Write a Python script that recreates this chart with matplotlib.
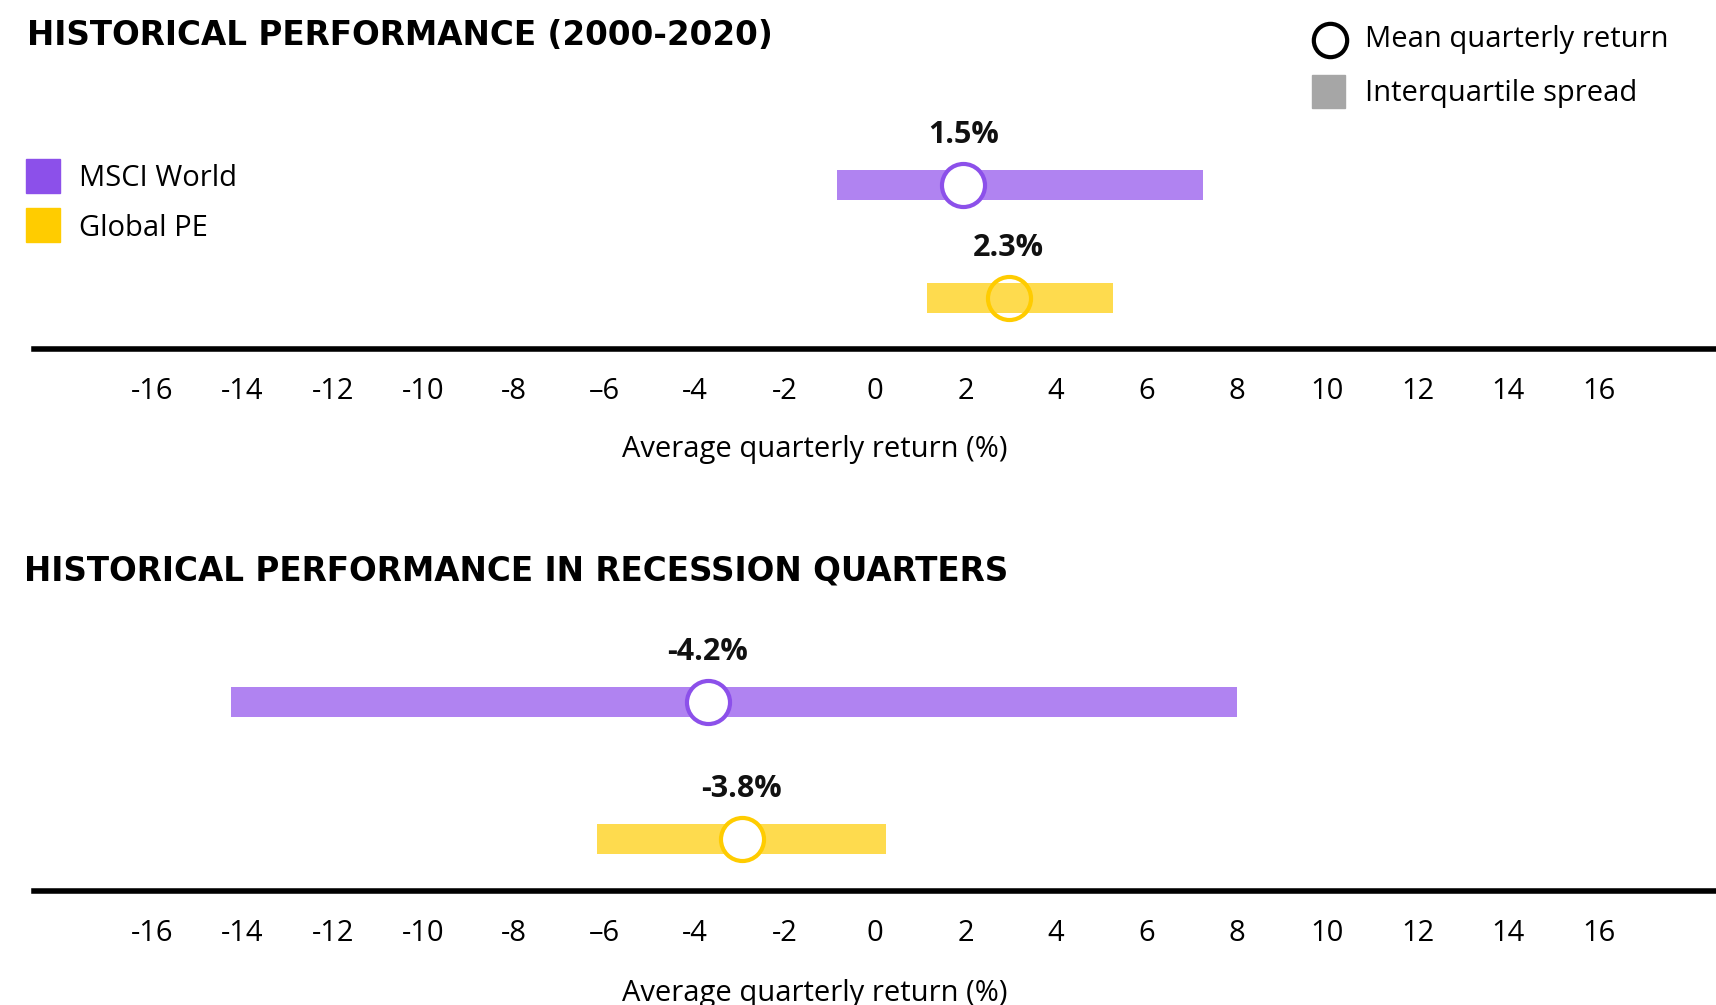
"""
Dumbbell-style range chart: interquartile spread + mean quarterly return,
MSCI World vs Global PE, full period and recession quarters.
"""

import matplotlib.pyplot as plt
from matplotlib.patches import Rectangle
from matplotlib.lines import Line2D

W, H = 1716, 1005
plt.rcParams["font.family"] = ["Open Sans", "DejaVu Sans"]

# ---------------------------------------------------------------------------
# Data
# ---------------------------------------------------------------------------

series = ["MSCI World", "Global PE"]

# 2000-2020
full_q1 = [-0.85, 1.15]
full_q3 = [7.25, 5.25]
full_mean_mark = [1.95, 2.95]
full_mean_label = ["1.5%", "2.3%"]

# recession quarters
rec_q1 = [-14.25, -6.15]
rec_q3 = [8.0, 0.25]
rec_mean_mark = [-3.7, -2.95]
rec_mean_label = ["-4.2%", "-3.8%"]

ticks = list(range(-16, 17, 2))
tick_labels = ["-16", "-14", "-12", "-10", "-8", "\u20136", "-4", "-2", "0",
               "2", "4", "6", "8", "10", "12", "14", "16"]

# ---------------------------------------------------------------------------
# Styling
# ---------------------------------------------------------------------------

DARK = ["#8C50EA", "#FFCC00"]
BAR = ["#B083F1", "#FEDB4E"]
XLIM = (-19.36, 18.6)


def fx(px):
    return px / W


def fy(py):
    return 1 - py / H


fig = plt.figure(figsize=(W / 100, H / 100), dpi=100)


def panel(bottom_px, height_px, ylim, q1, q3, mark, labels, bar_h, faces):
    ax = fig.add_axes([0, fy(bottom_px), 1, height_px / H])
    ax.set_xlim(*XLIM)
    ax.set_ylim(*ylim)
    rows = [1, 0]
    for i in range(len(series)):
        ax.barh(rows[i], q3[i] - q1[i], left=q1[i], height=bar_h,
                color=BAR[i], zorder=2)
        ax.plot(mark[i], rows[i], "o", ms=31, mfc=faces[i], mec=DARK[i],
                mew=3, zorder=3, clip_on=False)
        ax.annotate(labels[i], (mark[i], rows[i]), xytext=(0, 30),
                    textcoords="offset points", ha="center", va="baseline",
                    fontsize=22, fontweight="bold", color="#111111")
    for s in ["top", "right", "left"]:
        ax.spines[s].set_visible(False)
    ax.spines["bottom"].set_linewidth(4)
    ax.spines["bottom"].set_bounds(-18.6, XLIM[1])
    ax.set_yticks([])
    ax.set_xticks(ticks, tick_labels)
    ax.tick_params(axis="x", length=0, pad=20, labelsize=21)
    ax.set_xlabel("Average quarterly return (%)", fontsize=21)
    return ax


ax1 = panel(349, 232, (-0.45, 1.6), full_q1, full_q3, full_mean_mark,
            full_mean_label, 0.27, ["white", "none"])
ax1.xaxis.set_label_coords(815 / W, -(450 - 349) / 232)
ax1.xaxis.label.set_va("center")

ax2 = panel(891, 271, (-0.38, 1.6), rec_q1, rec_q3, rec_mean_mark,
            rec_mean_label, 0.22, ["white", "white"])
ax2.xaxis.set_label_coords(815 / W, -(993 - 891) / 271)
ax2.xaxis.label.set_va("center")

# ---------------------------------------------------------------------------
# Titles
# ---------------------------------------------------------------------------

fig.text(fx(27), fy(45), "HISTORICAL PERFORMANCE (2000-2020)", fontsize=23.5,
         fontweight="bold", va="baseline", ha="left", family="DejaVu Sans")
fig.text(fx(24), fy(580), "HISTORICAL PERFORMANCE IN RECESSION QUARTERS",
         fontsize=23.5, fontweight="bold", va="baseline", ha="left",
         family="DejaVu Sans")

# ---------------------------------------------------------------------------
# Legends
# ---------------------------------------------------------------------------

for i, (name, yc) in enumerate(zip(series, [176, 225])):
    fig.add_artist(Rectangle((fx(26), fy(yc + 17)), 34 / W, 34 / H,
                             color=DARK[i], transform=fig.transFigure))
    fig.text(fx(79), fy(yc + 3), name, fontsize=21, va="center", ha="left")

fig.add_artist(Line2D([fx(1330)], [fy(40)], marker="o", ms=24, mfc="white",
                      mec="black", mew=3, transform=fig.transFigure))
fig.text(fx(1365), fy(40), "Mean quarterly return", fontsize=21,
         va="center", ha="left")
fig.add_artist(Rectangle((fx(1312), fy(108)), 33 / W, 33 / H,
                         color="#A6A6A6", transform=fig.transFigure))
fig.text(fx(1365), fy(94), "Interquartile spread", fontsize=21,
         va="center", ha="left")

fig.savefig("out.png", dpi=100, facecolor="white")
